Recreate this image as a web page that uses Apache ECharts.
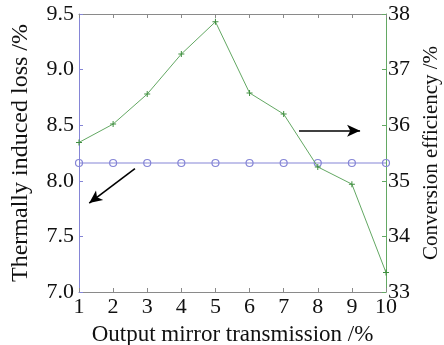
<!DOCTYPE html>
<html>
<head>
<meta charset="utf-8">
<script src="https://cdn.jsdelivr.net/npm/echarts@6/dist/echarts.min.js"></script>
<style>
  html, body { margin: 0; padding: 0; background: #ffffff; }
  #chart { width: 444px; height: 345px; }
</style>
</head>
<body>
<div id="chart"></div>
<script>
// Output mirror transmission (%)
const transmission = [1, 2, 3, 4, 5, 6, 7, 8, 9, 10];
// Thermally induced loss (%), left axis
const thermalLoss = [8.16, 8.16, 8.16, 8.16, 8.16, 8.16, 8.16, 8.16, 8.16, 8.16];
// Conversion efficiency (%), right axis
const efficiency = [35.69, 36.02, 36.56, 37.28, 37.86, 36.58, 36.2, 35.25, 34.94, 33.35];

// Pointer arrows: [start, end] in data coordinates
const lossArrow = [[2.64, 8.11], [1.3, 7.8]];
const effArrow = [[7.45, 35.9], [9.24, 35.9]];

const FONT = '"Liberation Serif", "DejaVu Serif", serif';
const BLUE = '#8585d6';
const GREEN = '#63a863';
const GRAY = '#8a8a8a';

const chart = echarts.init(document.getElementById('chart'));

const lossPoints = transmission.map((x, i) => [x, thermalLoss[i]]);
const effPoints = transmission.map((x, i) => [x, efficiency[i]]);

function arrowLine(pts) {
  return [[{ coord: pts[0], symbol: 'none' }, { coord: pts[1], symbol: 'arrow' }]];
}

chart.setOption({
  backgroundColor: '#ffffff',
  animation: false,
  textStyle: { fontFamily: FONT },
  grid: { left: 79, right: 58, top: 14, bottom: 53, containLabel: false, outerBoundsMode: 'none' },
  xAxis: [
    {
      type: 'value', min: 1, max: 10, interval: 1,
      name: 'Output mirror transmission /%',
      nameLocation: 'middle', nameGap: 31,
      nameTextStyle: { fontFamily: FONT, fontSize: 23, color: '#111' },
      axisLine: { show: true, lineStyle: { color: GRAY, width: 1 } },
      axisTick: { show: true, inside: true, length: 4, lineStyle: { color: GRAY } },
      axisLabel: { fontFamily: FONT, fontSize: 22, color: '#111', margin: 4 },
      splitLine: { show: false }
    },
    {
      type: 'value', min: 1, max: 10, interval: 1, position: 'top',
      axisLine: { show: true, onZero: false, lineStyle: { color: GRAY, width: 1 } },
      axisTick: { show: true, inside: true, length: 4, lineStyle: { color: GRAY } },
      axisLabel: { show: false },
      splitLine: { show: false }
    }
  ],
  yAxis: [
    {
      type: 'value', min: 7, max: 9.5, interval: 0.5, position: 'left',
      name: 'Thermally induced loss /%',
      nameLocation: 'middle', nameGap: 46, nameRotate: 90,
      nameTextStyle: { fontFamily: FONT, fontSize: 24, color: '#111' },
      axisLine: { show: true, onZero: false, lineStyle: { color: BLUE, width: 1 } },
      axisTick: { show: true, inside: true, length: 4, lineStyle: { color: BLUE } },
      axisLabel: { fontFamily: FONT, fontSize: 22, color: '#111', margin: 5,
                   formatter: v => v.toFixed(1) },
      splitLine: { show: false }
    },
    {
      type: 'value', min: 33, max: 38, interval: 1, position: 'right',
      name: 'Conversion efficiency /%',
      nameLocation: 'middle', nameGap: 34, nameRotate: 90,
      nameTextStyle: { fontFamily: FONT, fontSize: 21, color: '#111' },
      axisLine: { show: true, onZero: false, lineStyle: { color: GREEN, width: 1 } },
      axisTick: { show: true, inside: true, length: 4, lineStyle: { color: GREEN } },
      axisLabel: { fontFamily: FONT, fontSize: 22, color: '#111', margin: 2 },
      splitLine: { show: false }
    }
  ],
  series: [
    {
      name: 'Thermally induced loss',
      type: 'line',
      xAxisIndex: 0, yAxisIndex: 0,
      data: lossPoints,
      symbol: 'circle', symbolSize: 7,
      lineStyle: { color: BLUE, width: 1 },
      itemStyle: { color: 'rgba(255,255,255,0)', borderColor: BLUE, borderWidth: 1.2 },
      z: 3,
      markLine: {
        silent: true,
        symbolSize: [9, 13],
        label: { show: false },
        lineStyle: { color: '#000', width: 1.6, type: 'solid' },
        data: arrowLine(lossArrow)
      }
    },
    {
      name: 'Conversion efficiency',
      type: 'line',
      xAxisIndex: 0, yAxisIndex: 1,
      data: effPoints,
      symbol: 'path://M-1,-6L1,-6L1,-1L6,-1L6,1L1,1L1,6L-1,6L-1,1L-6,1L-6,-1L-1,-1Z',
      symbolSize: 6,
      lineStyle: { color: GREEN, width: 1 },
      itemStyle: { color: '#3f8f3f' },
      z: 4,
      markLine: {
        silent: true,
        symbolSize: [9, 13],
        label: { show: false },
        lineStyle: { color: '#000', width: 1.6, type: 'solid' },
        data: arrowLine(effArrow)
      }
    }
  ]
});
</script>
</body>
</html>
